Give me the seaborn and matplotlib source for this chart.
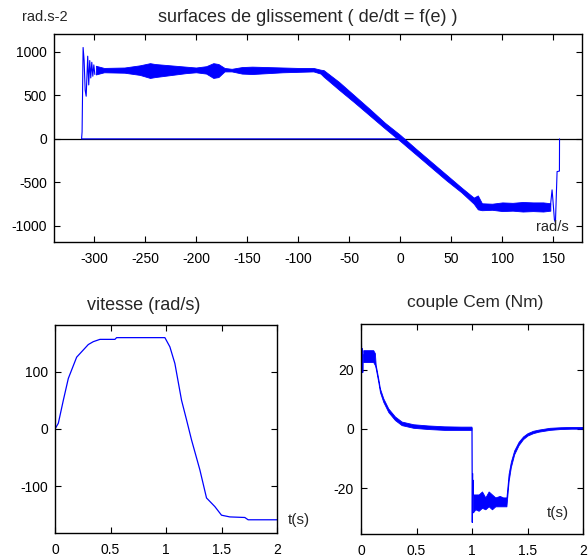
import matplotlib
matplotlib.use("Agg")
import matplotlib.pyplot as plt
import seaborn as sns
import numpy as np

# --- surface de glissement : de/dt = f(e) ---
e_start = [0, -312, -311.5, -310.5, -309.5, -308.5, -307.5, -306, -305, -304, -303, -302, -301, -300, -299]
dedt_start = [0, 0, 80, 1050, 900, 560, 490, 950, 620, 900, 700, 880, 720, 850, 740]

e_band = [-298, -290, -270, -255, -245, -240, -230, -220, -210, -200, -190, -183, -178, -172,
          -165, -155, -145, -130, -115, -100, -85, -78,
          -75, -60, -45, -30, -15, 0, 15, 30, 45, 60, 72, 76,
          80, 90, 100, 110, 120, 130, 140, 147]
dedt_lo = [740, 765, 760, 735, 700, 710, 725, 740, 755, 765, 750, 700, 710, 775,
           775, 750, 745, 755, 765, 770, 775, 750,
           715, 565, 420, 270, 120, -25, -175, -325, -475, -615, -745, -810,
           -820, -815, -830, -825, -835, -830, -835, -825]
dedt_hi = [840, 815, 820, 845, 870, 860, 850, 840, 830, 820, 835, 870, 860, 815,
           805, 825, 830, 825, 820, 815, 815, 795,
           790, 655, 500, 345, 185, 45, -110, -260, -410, -560, -675, -650,
           -740, -745, -730, -735, -725, -730, -730, -740]

e_end = [147, 148.7, 149.5, 151, 152, 153.6, 155.9, 156]
dedt_end = [-780, -586, -700, -931, -960, -376, -370, 0]

# --- vitesse ---
t_w = [0, 0.03, 0.075, 0.12, 0.195, 0.3, 0.345, 0.405, 0.54, 0.555, 0.99, 1.035, 1.08,
       1.14, 1.185, 1.23, 1.305, 1.365, 1.44, 1.5, 1.575, 1.71, 1.74, 2.0]
w = [0, 10, 50, 88, 125, 147, 152, 156, 156, 159, 159, 143, 114,
     50, 16, -19, -71, -120, -135, -150, -153, -154, -158, -158]

# --- couple Cem ---
t_c_start = [0, 0.003, 0.006, 0.01, 0.015, 0.02]
c_start = [0, 31, 22, 27, 19, 25]
t_c1 = [0.02, 0.05, 0.08, 0.11, 0.125, 0.132, 0.156, 0.171, 0.201, 0.246, 0.306, 0.366,
        0.471, 0.6, 0.75, 0.9, 0.995]
c1_lo = [22.5, 22.5, 22.5, 22.5, 21.5, 20.5, 15.7, 12.4, 9.1, 5.7, 3.0, 1.3, 0.4, 0.0, -0.3, -0.3, -0.3]
c1_hi = [26.5, 26.5, 26.5, 26.5, 25.5, 21.7, 16.9, 13.6, 10.3, 6.9, 4.2, 2.5, 1.6, 1.2, 0.9, 0.8, 0.8]
t_c_drop = [0.995, 1.0, 1.003, 1.006]
c_drop = [0.3, 0.3, -31.4, -15]
t_c2 = [1.006, 1.01, 1.03, 1.06, 1.09, 1.12, 1.15, 1.18, 1.21, 1.25, 1.28, 1.31,
        1.33, 1.35, 1.38, 1.42, 1.46, 1.5, 1.55, 1.6, 1.7, 1.8, 1.9, 2.0]
c2_lo = [-28, -28, -27, -27.5, -26.5, -27, -26, -27, -26, -26, -26, -26,
         -17.5, -12.8, -8.5, -5.4, -3.4, -2.2, -1.4, -0.9, -0.3, 0.0, 0.1, 0.1]
c2_hi = [-17, -22, -22, -22, -21, -23, -21, -22, -23, -22.5, -23, -23,
         -15, -11.0, -7.2, -4.3, -2.5, -1.4, -0.6, -0.2, 0.4, 0.6, 0.7, 0.7]

BLUE = "#0000ff"
W, H = 588, 557

sns.set_theme(style="ticks")
plt.rcParams["font.family"] = ["Liberation Sans", "DejaVu Sans"]
plt.rcParams["axes.unicode_minus"] = False

fig = plt.figure(figsize=(W / 100, H / 100), dpi=100)


def add_axes(left, top, right, bottom):
    return fig.add_axes([left / W, 1 - bottom / H, (right - left) / W, (bottom - top) / H])


def style(ax):
    ax.tick_params(direction="in", top=True, right=True, length=4, width=0.8,
                   labelsize=10, colors="black")
    ax.tick_params(axis="x", pad=7)
    ax.tick_params(axis="y", pad=5)
    for s in ax.spines.values():
        s.set_visible(True)
        s.set_color("black")
        s.set_linewidth(1.0)
    ax.set_xlabel("")
    ax.set_ylabel("")


def ftext(x, y, s, size, ha="center"):
    fig.text(x / W, 1 - y / H, s, fontsize=size, ha=ha, va="center")


# --- 1. surfaces de glissement ---
ax1 = add_axes(54, 34, 582, 242)
ax1.axhline(0, color="black", lw=0.9, zorder=1)
sns.lineplot(x=e_start, y=dedt_start, sort=False, estimator=None, color=BLUE, lw=0.8, ax=ax1)
ax1.fill_between(e_band, dedt_lo, dedt_hi, color=BLUE, lw=0.6)
sns.lineplot(x=e_end, y=dedt_end, sort=False, estimator=None, color=BLUE, lw=0.8, ax=ax1)
ax1.set_xlim(-339, 178)
ax1.set_ylim(-1185, 1205)
ax1.set_xticks(np.arange(-300, 151, 50))
ax1.set_yticks([-1000, -500, 0, 500, 1000])
style(ax1)
ftext(308, 18, "surfaces de glissement ( de/dt = f(e) )", 13)
ftext(22, 17, "rad.s-2", 10.5, ha="left")
ftext(536, 227, "rad/s", 10.5, ha="left")

# --- 2. vitesse ---
ax2 = add_axes(55, 325, 277, 533)
sns.lineplot(x=t_w, y=w, sort=False, estimator=None, color=BLUE, lw=0.9, ax=ax2)
ax2.set_xlim(0, 2)
ax2.set_ylim(-181, 181)
ax2.set_xticks([0, 0.5, 1, 1.5, 2])
ax2.set_xticklabels(["0", "0.5", "1", "1.5", "2"])
ax2.set_yticks([-100, 0, 100])
style(ax2)
ftext(144, 305, "vitesse (rad/s)", 13)
ftext(288, 520, "t(s)", 11, ha="left")

# --- 3. couple Cem ---
ax3 = add_axes(361, 324, 583, 534)
sns.lineplot(x=t_c_start, y=c_start, sort=False, estimator=None, color=BLUE, lw=0.9, ax=ax3)
ax3.fill_between(t_c1, c1_lo, c1_hi, color=BLUE, lw=0.6)
sns.lineplot(x=t_c_drop, y=c_drop, sort=False, estimator=None, color=BLUE, lw=0.9, ax=ax3)
ax3.fill_between(t_c2, c2_lo, c2_hi, color=BLUE, lw=0.6)
ax3.set_xlim(0, 2)
ax3.set_ylim(-35.3, 35.3)
ax3.set_xticks([0, 0.5, 1, 1.5, 2])
ax3.set_xticklabels(["0", "0.5", "1", "1.5", "2"])
ax3.set_yticks([-20, 0, 20])
style(ax3)
ftext(475, 302, "couple Cem (Nm)", 12.5)
ftext(547, 513, "t(s)", 11, ha="left")

fig.savefig("out.png", dpi=100)
